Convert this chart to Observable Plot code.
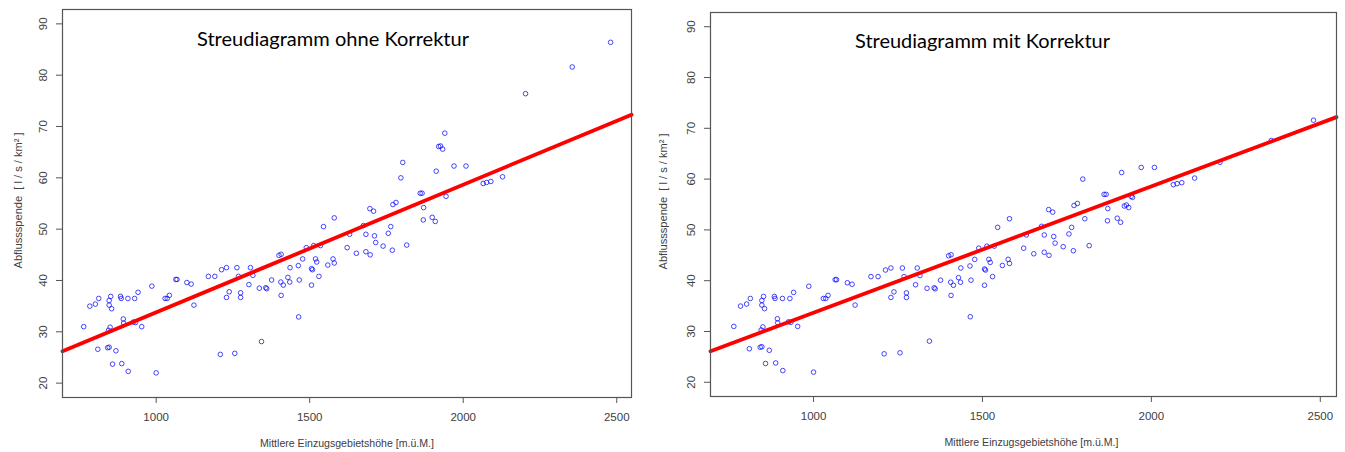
<!DOCTYPE html>
<html>
<head>
<meta charset="utf-8">
<script src="https://cdn.jsdelivr.net/npm/d3@7"></script>
<script src="https://cdn.jsdelivr.net/npm/@observablehq/plot@0.6"></script>
<style>
  html, body { margin: 0; padding: 0; background: #fff; }
  #wrap { position: relative; width: 1345px; height: 452px; overflow: hidden; }
  #left, #right { position: absolute; top: 0; }
  #left { left: 0; }
  #right { left: 655px; }
</style>
</head>
<body>
<div id="wrap"><div id="left"></div><div id="right"></div></div>
<script>
// Mittlere Einzugsgebietshöhe [m.ü.M.]
const elevation = [764, 784, 802, 813, 810, 842, 847, 847, 852, 847, 855, 850, 845, 858, 869, 884, 886, 888, 893, 894,
  908, 909, 930, 926, 933, 941, 953, 986, 1000, 1029, 1036, 1043, 1064, 1068, 1100, 1114, 1123, 1170, 1191, 1209,
  1213, 1229, 1229, 1238, 1256, 1263, 1268, 1275, 1275, 1302, 1307, 1315, 1336, 1343, 1357, 1360, 1376, 1400, 1407, 1406,
  1414, 1407, 1429, 1435, 1436, 1463, 1466, 1464, 1477, 1489, 1509, 1506, 1506, 1513, 1519, 1523, 1530, 1535, 1545, 1559,
  1576, 1580, 1580, 1622, 1630, 1652, 1675, 1683, 1683, 1697, 1696, 1708, 1711, 1715, 1739, 1756, 1764, 1769, 1771, 1781,
  1797, 1803, 1816, 1860, 1866, 1871, 1870, 1899, 1909, 1912, 1920, 1926, 1933, 1940, 1944, 1970, 2009, 2065, 2076, 2090,
  2128, 2203, 2355, 2480];
// Abflussspende ohne Korrektur
const spendeOhne = [31.0, 35.0, 35.4, 36.5, 26.6, 26.9, 27.0, 36.1, 36.9, 35.2, 34.5, 30.9, 30.3, 23.7, 26.3, 36.9, 36.5, 23.8, 32.5, 31.7,
  36.5, 22.3, 36.5, 31.9, 31.8, 37.7, 31.0, 38.9, 22.0, 36.5, 36.5, 37.1, 40.2, 40.2, 39.6, 39.3, 35.2, 40.8, 40.8, 25.6,
  42.1, 42.5, 36.7, 37.8, 25.8, 42.5, 40.8, 37.6, 36.7, 39.2, 42.5, 41.0, 38.5, 28.1, 38.6, 38.4, 40.1, 44.9, 45.1, 39.7,
  39.1, 37.1, 40.6, 39.7, 42.5, 42.9, 40.1, 32.9, 44.2, 46.4, 42.1, 42.3, 39.1, 46.8, 44.2, 43.6, 40.8, 46.8, 50.5, 43.0,
  44.2, 43.4, 52.2, 46.4, 49.0, 45.3, 50.7, 49.0, 45.6, 45.0, 54.0, 53.5, 48.7, 47.4, 46.7, 49.2, 50.5, 45.9, 54.8, 55.2,
  60.0, 63.0, 46.9, 57.0, 57.0, 54.2, 51.8, 52.3, 51.5, 61.3, 66.1, 66.2, 65.6, 68.7, 56.4, 62.3, 62.3, 58.9, 59.1, 59.3,
  60.2, 76.4, 81.6, 86.4];
// Abflussspende mit Korrektur
const spendeMit = [31.0, 35.0, 35.4, 36.5, 26.6, 26.9, 27.0, 36.1, 36.9, 35.2, 34.5, 30.9, 30.3, 23.7, 26.3, 36.9, 36.5, 23.8, 32.5, 31.7,
  36.5, 22.3, 36.5, 31.9, 31.8, 37.7, 31.0, 38.9, 22.0, 36.5, 36.5, 37.1, 40.2, 40.2, 39.6, 39.3, 35.2, 40.8, 40.8, 25.6,
  42.1, 42.5, 36.7, 37.8, 25.8, 42.5, 40.8, 37.6, 36.7, 39.2, 42.5, 41.0, 38.5, 28.1, 38.6, 38.4, 40.1, 44.9, 45.1, 39.7,
  39.1, 37.1, 40.6, 39.7, 42.5, 42.9, 40.1, 32.9, 44.2, 46.4, 42.1, 42.3, 39.1, 46.8, 44.2, 43.6, 40.8, 46.8, 50.5, 43.0,
  44.2, 43.4, 52.2, 46.4, 49.0, 45.3, 50.7, 49.0, 45.6, 45.0, 54.0, 53.5, 48.7, 47.4, 46.7, 49.2, 50.5, 45.9, 54.8, 55.2,
  60.0, 52.2, 46.9, 57.0, 57.0, 54.2, 51.8, 52.3, 51.5, 61.3, 54.7, 54.9, 54.4, 56.6, 56.4, 62.3, 62.3, 58.9, 59.1, 59.3,
  60.2, 63.3, 67.6, 71.6];
// Regressionsgerade (Endpunkte)
const lineX = [695, 2548];
const lineOhne = [26.2, 72.3];
const lineMit = [26.1, 72.2];
const xTicks = [1000, 1500, 2000, 2500];
const yTicks = [20, 30, 40, 50, 60, 70, 80, 90];
const xDomain = [695, 2548];
const yDomain = [17.2, 92.8];
const titles = ["Streudiagramm ohne Korrektur", "Streudiagramm mit Korrektur"];
const xLabel = "Mittlere Einzugsgebietshöhe [m.ü.M.]";
const yLabel = "Abflussspende  [ l / s / km² ]";

const GRAY = "#555";
const TXT = "#404040";
const FONT = "'Liberation Sans', Arial, sans-serif";

function panel(cfg) {
  const pts = elevation.map((e, i) => ({x: e, y: cfg.yVals[i]}));
  const ln = lineX.map((e, i) => ({x: e, y: cfg.lineY[i]}));
  const svg = Plot.plot({
    width: cfg.width, height: 452,
    marginTop: cfg.mt, marginBottom: cfg.mb, marginLeft: cfg.ml, marginRight: cfg.mr,
    x: {domain: xDomain, axis: null},
    y: {domain: yDomain, axis: null},
    style: {background: "white", fontFamily: FONT, fontSize: "11px", color: TXT, overflow: "visible"},
    marks: [
      Plot.axisX({ticks: xTicks, tickSize: 6, stroke: GRAY, fill: "none", anchor: "bottom", label: null}),
      Plot.axisY({ticks: yTicks, tickSize: 6, stroke: GRAY, fill: "none", anchor: "left", label: null}),
      Plot.text(xTicks, {x: d => d, frameAnchor: "bottom", dy: 20, lineAnchor: "middle", text: d => String(d), fill: TXT, fontSize: 11.5}),
      Plot.text(yTicks, {y: d => d, frameAnchor: "left", dx: -19, rotate: -90, textAnchor: "middle", lineAnchor: "middle", text: d => String(d), fill: TXT, fontSize: 11.5}),
      Plot.dot(pts, {x: "x", y: "y", r: 2.3, stroke: "#0000ff", strokeWidth: 0.85, strokeOpacity: 0.85, fill: "none"}),
      Plot.line(ln, {x: "x", y: "y", stroke: "#ff0000", strokeWidth: 3.8}),
      Plot.frame({stroke: GRAY, strokeWidth: 1.2}),
      Plot.text([cfg.title], {frameAnchor: "top", dx: cfg.titleDx, dy: cfg.titleDy, lineAnchor: "bottom", text: d => d, fill: "#000", fontSize: 19.5, fontFamily: "Lato, 'Open Sans', sans-serif"}),
      Plot.text([xLabel], {frameAnchor: "bottom", dx: cfg.xlDx, dy: 46, lineAnchor: "middle", text: d => d, fill: TXT, fontSize: 11.5, fontFamily: "'Liberation Sans Narrow', 'Liberation Sans', Arial, sans-serif"}),
      Plot.text([yLabel], {frameAnchor: "left", dx: cfg.ylDx, dy: -3, rotate: -90, textAnchor: "middle", lineAnchor: "middle", text: d => d, fill: TXT, fontSize: 11.5})
    ]
  });
  const s = d3.select(svg);
  s.selectAll("text").filter(function() { return this.textContent === cfg.title; })
    .attr("textLength", cfg.titleLen).attr("lengthAdjust", "spacingAndGlyphs");
  s.selectAll("text").filter(function() { return this.textContent === xLabel; })
    .attr("textLength", 174).attr("lengthAdjust", "spacingAndGlyphs");
  s.selectAll("text").filter(function() { return this.textContent === yLabel; })
    .attr("textLength", 136).attr("lengthAdjust", "spacingAndGlyphs");
  return svg;
}

document.getElementById("left").appendChild(panel({
  yVals: spendeOhne, lineY: lineOhne, title: titles[0], width: 655,
  mt: 9, mb: 55, ml: 62, mr: 24, titleDx: -14, titleDy: 36, titleLen: 272, xlDx: 0, ylDx: -44
}));
document.getElementById("right").appendChild(panel({
  yVals: spendeMit, lineY: lineMit, title: titles[1], width: 690,
  mt: 12, mb: 56, ml: 55, mr: 9, titleDx: -41, titleDy: 35, titleLen: 255, xlDx: 8, ylDx: -47
}));
</script>
</body>
</html>
